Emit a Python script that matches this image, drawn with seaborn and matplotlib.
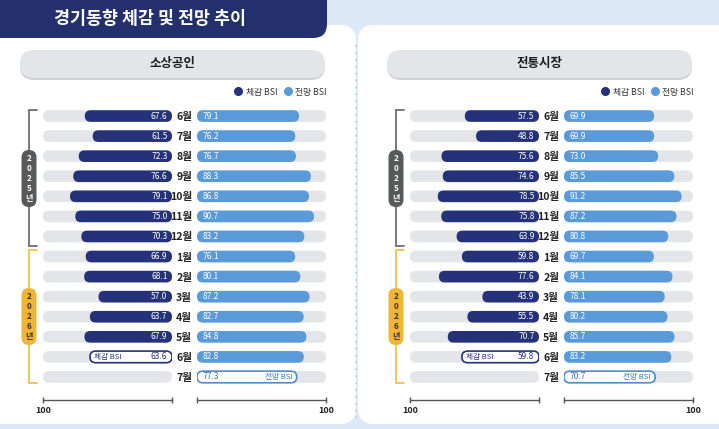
import numpy as np
import pandas as pd
import matplotlib
matplotlib.use("Agg")
import matplotlib.pyplot as plt
from matplotlib.patches import FancyBboxPatch, Rectangle
from matplotlib.lines import Line2D
import seaborn as sns

# ---------------- data ----------------
periods = ["2025-06", "2025-07", "2025-08", "2025-09", "2025-10", "2025-11", "2025-12",
           "2026-01", "2026-02", "2026-03", "2026-04", "2026-05", "2026-06", "2026-07"]
month_labels = ["6월", "7월", "8월", "9월", "10월", "11월", "12월",
                "1월", "2월", "3월", "4월", "5월", "6월", "7월"]
year_groups = ["2025년", "2026년"]

panel_titles = ["소상공인", "전통시장"]

sme_felt = [67.6, 61.5, 72.3, 76.6, 79.1, 75.0, 70.3, 66.9, 68.1, 57.0, 63.7, 67.9, 63.6, np.nan]
sme_outlook = [79.1, 76.2, 76.7, 88.3, 86.8, 90.7, 83.2, 76.1, 80.1, 87.2, 82.7, 84.8, 82.8, 77.3]

mkt_felt = [57.5, 48.8, 75.6, 74.6, 78.5, 75.8, 63.9, 59.8, 77.6, 43.9, 55.5, 70.7, 59.8, np.nan]
mkt_outlook = [69.9, 69.9, 73.0, 85.5, 91.2, 87.2, 80.8, 69.7, 84.1, 78.1, 80.2, 85.7, 83.2, 70.7]

latest_felt = "2026-06"
latest_outlook = "2026-07"
scale_max = 100

# ---------------- style ----------------
sns.set_theme(style="white")
plt.rcParams["font.family"] = ["Noto Sans CJK KR", "DejaVu Sans"]

NAVY = "#25327a"
BLUE = "#5b9ad8"
BLUE_EDGE = "#4f8ccc"
TRACK = "#e3e5e9"
BG = "#dde9f7"
TITLE_BG = "#24306e"
PILL = "#e4e5e9"

W, H = 719, 429
fig = plt.figure(figsize=(W / 100, H / 100), dpi=100)
fig.patch.set_facecolor(BG)

# overlay axes in pixel coordinates for decorations
ov = fig.add_axes([0, 0, 1, 1], zorder=0)
ov.set_xlim(0, W)
ov.set_ylim(H, 0)
ov.axis("off")
ov.patch.set_alpha(0)


def rbox(x, y, w, h, r, **kw):
    p = FancyBboxPatch((x, y), w, h, boxstyle=f"round,pad=0,rounding_size={r}",
                       mutation_aspect=1, **kw)
    ov.add_patch(p)
    return p


# white panels
rbox(-30, 25, 386, 399, 16, fc="white", ec="none", zorder=1)
rbox(358, 25, 400, 399, 16, fc="white", ec="none", zorder=1)
ov.plot([356, 356], [45, 418], color="#c5cdd8", lw=1.1, ls=(0, (1.5, 3)), zorder=2)

# title banner
rbox(-30, -30, 357, 68, 14, fc=TITLE_BG, ec="none", zorder=3)
ov.text(150, 19, "경기동향 체감 및 전망 추이", color="white", fontsize=12.5,
        fontweight="bold", ha="center", va="center", zorder=4)


def px_axes(x0, x1, y0, y1):
    return fig.add_axes([x0 / W, 1 - y1 / H, (x1 - x0) / W, (y1 - y0) / H], zorder=5)


def round_bars(ax, kind):
    bb = ax.get_position()
    wpx = bb.width * W
    hpx = bb.height * H
    xl = ax.get_xlim()
    yl = ax.get_ylim()
    pxx = wpx / abs(xl[1] - xl[0])
    pxy = hpx / abs(yl[1] - yl[0])
    for p in list(ax.patches):
        if not isinstance(p, Rectangle):
            continue
        x, y = p.get_xy()
        w, h = p.get_width(), p.get_height()
        if not np.isfinite(w) or w == 0:
            p.remove()
            continue
        r = (abs(h) * pxy / 2) / pxx
        m = (abs(h) / 2) / r
        fc = p.get_facecolor()
        is_white = np.allclose(fc[:3], (1, 1, 1))
        if is_white:
            ec = NAVY if kind == "felt" else BLUE_EDGE
            lw = 1.2
        else:
            ec = "none"
            lw = 0
        fb = FancyBboxPatch((x, y), w, h, boxstyle=f"round,pad=0,rounding_size={r}",
                            mutation_aspect=m, fc=fc, ec=ec, lw=lw, zorder=p.get_zorder())
        p.remove()
        ax.add_patch(fb)


def draw_panel(off, title, felt, outlook):
    df = pd.DataFrame({
        "period": periods,
        "felt": felt,
        "outlook": outlook,
        "track": [scale_max] * len(periods),
    })
    df["felt_kind"] = np.where(df["period"] == latest_felt, "latest", "actual")
    df["outlook_kind"] = np.where(df["period"] == latest_outlook, "latest", "actual")

    y0, y1 = 106, 387
    axl = px_axes(43 + off, 172 + off, y0, y1)
    axr = px_axes(197 + off, 326 + off, y0, y1)

    for ax, col, kcol, pal in [
        (axl, "felt", "felt_kind", {"actual": NAVY, "latest": "white"}),
        (axr, "outlook", "outlook_kind", {"actual": BLUE, "latest": "white"}),
    ]:
        ax.patch.set_alpha(0)
        sns.barplot(data=df, x="track", y="period", order=periods, orient="h",
                    color=TRACK, width=0.58, errorbar=None, ax=ax, zorder=1,
                    saturation=1)
        sub = df.dropna(subset=[col])
        sns.barplot(data=sub, x=col, y="period", order=periods, orient="h",
                    hue=kcol, palette=pal, hue_order=["actual", "latest"], dodge=False,
                    width=0.58, errorbar=None, legend=False, ax=ax, zorder=2,
                    saturation=1)
        ax.set_ylim(len(periods) - 0.5, -0.5)
        if ax is axl:
            ax.set_xlim(scale_max, 0)
        else:
            ax.set_xlim(0, scale_max)
        ax.set_xlabel("")
        ax.set_ylabel("")
        for s in ["top", "left", "right"]:
            ax.spines[s].set_visible(False)
        ax.spines["bottom"].set_position(("outward", 9.6))
        ax.spines["bottom"].set_color("#555555")
        ax.spines["bottom"].set_linewidth(1.0)
        ax.set_xticks([0, scale_max])
        ax.set_xticklabels(["", str(scale_max)])
        ax.tick_params(axis="x", direction="inout", length=4.5, width=1.0, color="#555555",
                       pad=1.5, labelsize=6.5, bottom=True)
        for t in ax.get_xticklabels():
            t.set_fontweight("bold")
            t.set_color("#222222")
        round_bars(ax, col)

    axl.set_yticks([])
    axr.set_yticks(range(len(periods)))
    axr.set_yticklabels(month_labels)
    axr.tick_params(axis="y", length=0, pad=3.5, labelsize=7.6, labelcolor="#222222", left=False)
    for t in axr.get_yticklabels():
        t.set_fontweight("bold")

    # value labels
    for i, row in df.iterrows():
        if np.isfinite(row["felt"]):
            if row["felt_kind"] == "latest":
                axl.text(3.5, i, f"{row['felt']:.1f}", ha="right", va="center",
                         color=NAVY, fontsize=6, zorder=5)
                axl.text(row["felt"] - 3, i, "체감 BSI", ha="left", va="center",
                         color=NAVY, fontsize=5.5, zorder=5)
            else:
                axl.text(3.5, i, f"{row['felt']:.1f}", ha="right", va="center",
                         color="white", fontsize=6, zorder=5)
        if np.isfinite(row["outlook"]):
            if row["outlook_kind"] == "latest":
                axr.text(4, i, f"{row['outlook']:.1f}", ha="left", va="center",
                         color="#3a6fae", fontsize=6, zorder=5)
                axr.text(row["outlook"] - 3.5, i, "전망 BSI", ha="right", va="center",
                         color="#3a6fae", fontsize=5.5, zorder=5)
            else:
                axr.text(4, i, f"{row['outlook']:.1f}", ha="left", va="center",
                         color="white", fontsize=6, zorder=5)

    # panel title pill
    rbox(20 + off, 52, 305, 28, 14, fc="#cfd2d8", ec="none", zorder=2)
    rbox(20 + off, 50, 305, 28, 14, fc=PILL, ec="none", zorder=3)
    ov.text(172.5 + off, 64, title, ha="center", va="center", fontsize=9,
            fontweight="bold", color="#1e1e1e", zorder=4)

    # legend
    handles = [Line2D([], [], marker="o", ls="none", color=NAVY, markersize=5.5),
               Line2D([], [], marker="o", ls="none", color=BLUE, markersize=5.5)]
    leg = axr.legend(handles, ["체감 BSI", "전망 BSI"], ncol=2, frameon=False,
                     fontsize=6.3, handletextpad=0.55, columnspacing=0.9,
                     handlelength=0.6, borderpad=0, borderaxespad=0,
                     loc="center right",
                     bbox_to_anchor=((327 + off) / W, 1 - 92 / H),
                     bbox_transform=fig.transFigure)
    for t in leg.get_texts():
        t.set_color("#333333")

    # year brackets
    cx = 29 + off
    specs = [("#6d6e71", "#58595b", "white", 110, 246, 150, 207),
             ("#f2c14e", "#f0b533", "#333333", 250, 383, 288, 345)]
    for (lc, pc, tc, ya, yb, pa, pb), lab in zip(specs, year_groups):
        ov.plot([cx + 8, cx, cx, cx + 8], [ya, ya, yb, yb], color=lc, lw=1.3,
                zorder=3, solid_joinstyle="miter")
        rbox(cx - 7.5, pa, 15, pb - pa, 7.5, fc=pc, ec="none", zorder=4)
        ov.text(cx, (pa + pb) / 2, "\n".join(lab), ha="center", va="center",
                fontsize=5.8, fontweight="bold", color=tc, linespacing=1.12, zorder=5)


draw_panel(0, panel_titles[0], sme_felt, sme_outlook)
draw_panel(367, panel_titles[1], mkt_felt, mkt_outlook)

fig.savefig("out.png", dpi=100, facecolor=fig.get_facecolor())
